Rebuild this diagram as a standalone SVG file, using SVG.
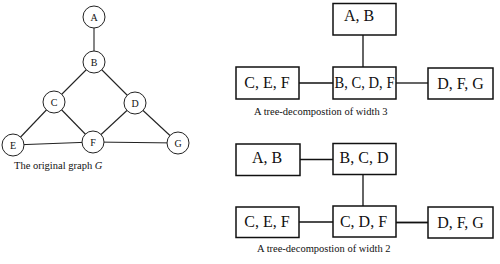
<svg xmlns="http://www.w3.org/2000/svg" width="500" height="264" viewBox="0 0 500 264">
<style>
.bg{fill:#fff}
.n circle{fill:#fff;stroke:#222;stroke-width:1}
.n text{font-family:"Liberation Serif",serif;font-size:10px;fill:#111;text-anchor:middle}
.b rect{fill:#fff;stroke:#111;stroke-width:1.5}
.b text{font-family:"Liberation Serif",serif;font-size:16px;fill:#111;text-anchor:middle}
.e line{stroke:#222;stroke-width:1.1}
.t line{stroke:#111;stroke-width:1.3}
.cap{font-family:"Liberation Serif",serif;font-size:10.5px;fill:#111}
</style>
<rect class="bg" x="0" y="0" width="500" height="264"/>
<g id="graph-edges" class="e">
<line x1="94" y1="17" x2="94" y2="62"/>
<line x1="94" y1="62" x2="54" y2="102"/>
<line x1="94" y1="62" x2="135" y2="103"/>
<line x1="54" y1="102" x2="13" y2="145"/>
<line x1="54" y1="102" x2="93" y2="142"/>
<line x1="135" y1="103" x2="93" y2="142"/>
<line x1="135" y1="103" x2="178" y2="143"/>
<line x1="13" y1="145" x2="93" y2="142"/>
<line x1="93" y1="142" x2="178" y2="143"/>
</g>
<g id="node-A" class="n"><circle cx="94" cy="17" r="11"/><text x="94" y="20.5">A</text></g>
<g id="node-B" class="n"><circle cx="94" cy="62" r="11"/><text x="94" y="65.5">B</text></g>
<g id="node-C" class="n"><circle cx="54" cy="102" r="11"/><text x="54" y="105.5">C</text></g>
<g id="node-D" class="n"><circle cx="135" cy="103" r="11"/><text x="135" y="106.5">D</text></g>
<g id="node-E" class="n"><circle cx="13" cy="145" r="11"/><text x="13" y="148.5">E</text></g>
<g id="node-F" class="n"><circle cx="93" cy="142" r="11"/><text x="93" y="145.5">F</text></g>
<g id="node-G" class="n"><circle cx="178" cy="143" r="11"/><text x="178" y="146.5">G</text></g>
<text class="cap" x="14" y="169">The original graph <tspan font-style="italic">G</tspan></text>

<g id="tree-edges" class="t">
<line x1="363" y1="35" x2="363" y2="67"/>
<line x1="299" y1="83" x2="333" y2="83"/>
<line x1="396" y1="83" x2="428" y2="83"/>
<line x1="300" y1="159.5" x2="333" y2="159.5"/>
<line x1="363" y1="174.5" x2="363" y2="206"/>
<line x1="299" y1="222" x2="333" y2="222"/>
<line x1="396" y1="222.5" x2="428" y2="222.5" style="stroke-width:1.8"/>
</g>

<g id="t1-AB" class="b"><rect x="333" y="3.5" width="63" height="31.5"/><text x="359" y="21">A, B</text></g>
<g id="t1-CEF" class="b"><rect x="236" y="67" width="63" height="32"/><text x="267" y="88">C, E, F</text></g>
<g id="t1-BCDF" class="b"><rect x="333" y="67" width="63" height="32"/><text x="364.5" y="88" textLength="60" lengthAdjust="spacingAndGlyphs">B, C, D, F</text></g>
<g id="t1-DFG" class="b"><rect x="428" y="68" width="65" height="31"/><text x="460.5" y="88.5">D, F, G</text></g>
<text class="cap" x="254" y="115">A tree-decompostion of width 3</text>

<g id="t2-AB" class="b"><rect x="236" y="144" width="64" height="31.5"/><text x="267" y="163">A, B</text></g>
<g id="t2-BCD" class="b"><rect x="333" y="143.5" width="63" height="31"/><text x="364" y="163">B, C, D</text></g>
<g id="t2-CEF" class="b"><rect x="236" y="207" width="63" height="30.5"/><text x="267" y="227">C, E, F</text></g>
<g id="t2-CDF" class="b"><rect x="333" y="206" width="63" height="31"/><text x="363.5" y="226.5">C, D, F</text></g>
<g id="t2-DFG" class="b"><rect x="428" y="207" width="65" height="31"/><text x="460.5" y="228">D, F, G</text></g>
<text class="cap" x="257" y="252">A tree-decompostion of width 2</text>
</svg>
